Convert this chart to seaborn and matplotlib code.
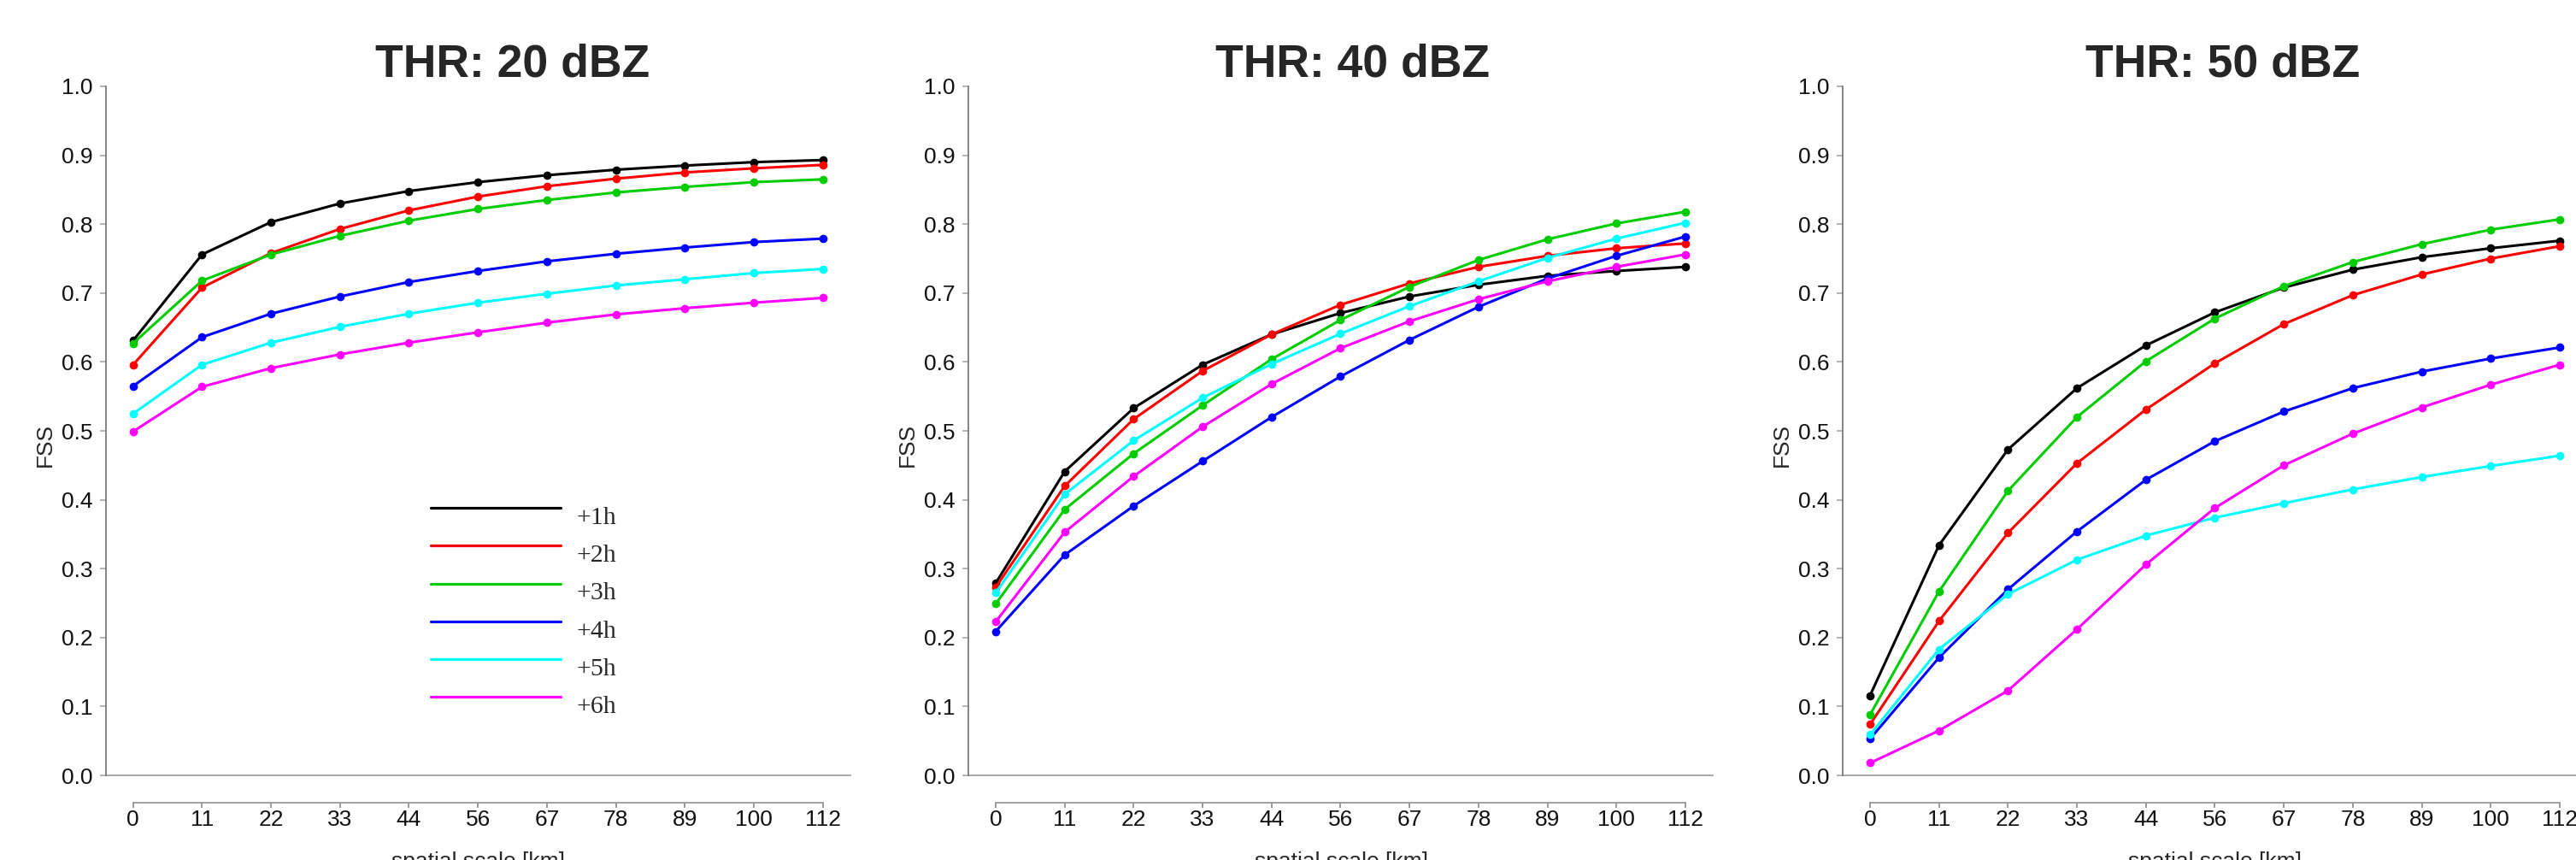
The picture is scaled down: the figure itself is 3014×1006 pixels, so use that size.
import numpy as np
import pandas as pd
import seaborn as sns
import matplotlib.pyplot as plt
from matplotlib.lines import Line2D

# spatial scales (x tick labels) and lead times
scales = ['0', '11', '22', '33', '44', '56', '67', '78', '89', '100', '112']
leads = ['+1h', '+2h', '+3h', '+4h', '+5h', '+6h']
colors = ['#000000', '#ff0000', '#00cd00', '#0000ff', '#00ffff', '#ff00ff']
thresholds = ['THR: 20 dBZ', 'THR: 40 dBZ', 'THR: 50 dBZ']

# FSS values, one list per lead time
fss_20 = {
    '+1h': [0.631, 0.756, 0.803, 0.830, 0.848, 0.861, 0.871, 0.879, 0.885, 0.890, 0.893],
    '+2h': [0.596, 0.708, 0.758, 0.793, 0.820, 0.840, 0.855, 0.866, 0.875, 0.881, 0.886],
    '+3h': [0.627, 0.718, 0.756, 0.783, 0.805, 0.822, 0.835, 0.846, 0.854, 0.861, 0.865],
    '+4h': [0.565, 0.636, 0.670, 0.695, 0.716, 0.732, 0.746, 0.757, 0.766, 0.774, 0.779],
    '+5h': [0.525, 0.596, 0.628, 0.651, 0.670, 0.686, 0.699, 0.711, 0.720, 0.729, 0.735],
    '+6h': [0.499, 0.564, 0.591, 0.611, 0.628, 0.643, 0.657, 0.669, 0.678, 0.686, 0.693],
}
fss_40 = {
    '+1h': [0.279, 0.441, 0.533, 0.596, 0.640, 0.671, 0.695, 0.712, 0.725, 0.732, 0.738],
    '+2h': [0.273, 0.420, 0.517, 0.587, 0.640, 0.683, 0.714, 0.738, 0.754, 0.765, 0.772],
    '+3h': [0.249, 0.386, 0.467, 0.537, 0.604, 0.661, 0.709, 0.748, 0.778, 0.801, 0.818],
    '+4h': [0.209, 0.320, 0.391, 0.456, 0.520, 0.579, 0.632, 0.680, 0.721, 0.754, 0.782],
    '+5h': [0.265, 0.408, 0.486, 0.548, 0.597, 0.641, 0.681, 0.717, 0.751, 0.779, 0.802],
    '+6h': [0.223, 0.353, 0.434, 0.506, 0.568, 0.620, 0.659, 0.691, 0.717, 0.738, 0.756],
}
fss_50 = {
    '+1h': [0.116, 0.334, 0.473, 0.562, 0.624, 0.672, 0.708, 0.734, 0.752, 0.765, 0.776],
    '+2h': [0.074, 0.224, 0.352, 0.453, 0.531, 0.598, 0.655, 0.697, 0.727, 0.750, 0.768],
    '+3h': [0.088, 0.267, 0.413, 0.520, 0.601, 0.663, 0.710, 0.745, 0.771, 0.792, 0.807],
    '+4h': [0.053, 0.171, 0.270, 0.354, 0.429, 0.485, 0.528, 0.562, 0.586, 0.605, 0.621],
    '+5h': [0.059, 0.183, 0.263, 0.313, 0.348, 0.374, 0.395, 0.415, 0.433, 0.449, 0.464],
    '+6h': [0.018, 0.065, 0.123, 0.212, 0.306, 0.388, 0.450, 0.496, 0.534, 0.567, 0.596],
}
panels = [fss_20, fss_40, fss_50]

sns.set_theme(style='ticks')
plt.rcParams['font.family'] = ['Liberation Sans', 'DejaVu Sans']

W, H = 3014, 1006
fig = plt.figure(figsize=(W / 100, H / 100), dpi=100)

lefts = [123.7, 1133, 2156]      # left spine, px
title_x = [600, 1582, 2601]      # title centres, px
ax_w = 872
ax_top, ax_bot = 101, 939

for i, data in enumerate(panels):
    rows = []
    for lead in leads:
        for j, v in enumerate(data[lead]):
            rows.append({'x': j, 'lead': lead, 'fss': v})
    df = pd.DataFrame(rows)

    ax = fig.add_axes([lefts[i] / W, 1 - ax_bot / H, ax_w / W, (ax_bot - ax_top) / H])
    ax.axhline(0, color='#9a9a9a', lw=1.2, zorder=1)
    sns.lineplot(data=df, x='x', y='fss', hue='lead', hue_order=leads,
                 palette=colors, marker='o', markersize=7, markeredgewidth=0,
                 linewidth=2.2, legend=False, ax=ax)

    ax.set_xlim(-0.397, 10.41)
    ax.set_ylim(-0.0397, 1.0)
    ax.set_xticks(range(len(scales)))
    ax.set_xticklabels(scales)
    ax.set_yticks(np.arange(0, 1.01, 0.1))
    ax.set_yticklabels([f'{t:.1f}' for t in np.arange(0, 1.01, 0.1)])
    for s in ['top', 'right']:
        ax.spines[s].set_visible(False)
    ax.spines['left'].set_bounds(0, 1)
    ax.spines['bottom'].set_bounds(0, 10)
    ax.spines['left'].set_color('#707070')
    ax.spines['bottom'].set_color('#909090')
    ax.spines['left'].set_linewidth(1.2)
    ax.spines['bottom'].set_linewidth(1.2)
    ax.tick_params(axis='y', length=5, width=1.1, color='#a0a0a0', pad=6,
                   labelsize=19, labelcolor='#111111')
    ax.tick_params(axis='x', length=4.5, width=1.1, color='#808080', pad=1.5,
                   labelsize=19, labelcolor='#111111')
    ax.set_xlabel('spatial scale [km]', fontsize=19, labelpad=18)
    ax.set_ylabel('FSS', fontsize=19, labelpad=5)
    ax.grid(False)

    fig.text(title_x[i] / W, 1 - 90 / H, thresholds[i], ha='center', va='baseline',
             fontsize=38.5, fontweight='bold')

    if i == 0:
        handles = [Line2D([], [], color=c, lw=2.3) for c in colors]
        leg = ax.legend(handles, leads, loc='upper left',
                        bbox_to_anchor=(504 / W, 1 - 592 / H),
                        bbox_transform=fig.transFigure, frameon=False,
                        borderpad=0, borderaxespad=0, handlelength=5.1,
                        handletextpad=0.6, labelspacing=0.58,
                        prop={'family': 'Liberation Serif', 'size': 21.5})
        for ln in leg.get_lines():
            ln.set_ydata(np.asarray(ln.get_ydata()) + 6)

fig.savefig('out.png', dpi=100)
